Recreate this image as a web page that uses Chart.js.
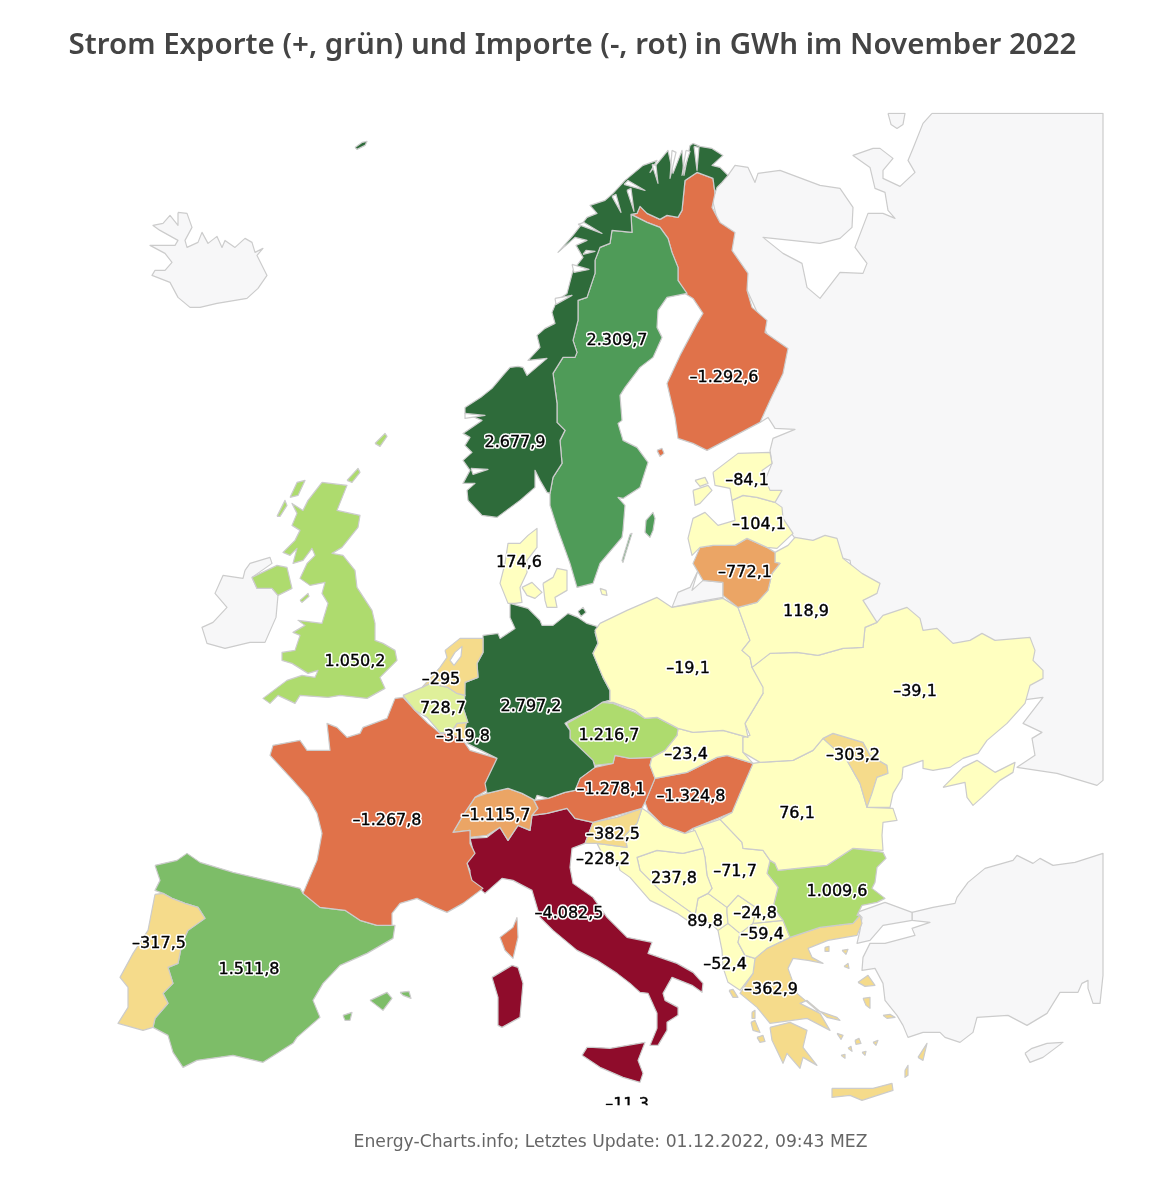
<!DOCTYPE html>
<html><head><meta charset="utf-8">
<style>html,body{margin:0;padding:0;background:#fff;overflow:hidden}canvas{display:block}</style>
<script src="https://cdn.jsdelivr.net/npm/chart.js@4"></script></head>
<body><canvas id="c" width="1167" height="1200"></canvas>
<script>
const titleText = "Strom Exporte (+, grün) und Importe (-, rot) in GWh im November 2022";
const footerText = "Energy-Charts.info; Letztes Update: 01.12.2022, 09:43 MEZ";

// Exchange values (GWh) per country
const countries = ["Norway","Sweden","Finland","Estonia","Latvia","Denmark","Lithuania","Belarus","UK","Poland","Netherlands","Ukraine","Belgium","Germany","Czechia","Luxembourg","Slovakia","Moldova","Austria","Hungary","France","Switzerland","Romania","Slovenia","Croatia","Bosnia","Serbia","Bulgaria","Italy","Kosovo","Montenegro","NMacedonia","Portugal","Spain","Albania","Greece","Malta"];
const values = [2677.9,2309.7,-1292.6,-84.1,-104.1,174.6,-772.1,118.9,1050.2,-19.1,-295,-39.1,728.7,2797.2,1216.7,-319.8,-23.4,-303.2,-1278.1,-1324.8,-1267.8,-1115.7,76.1,-382.5,-228.2,237.8,-71.7,1009.6,-4082.5,-24.8,89.8,-59.4,-317.5,1511.8,-52.4,-362.9,-11.3];
// Label anchors in map units
const labelX = [515,617,724,747,759,519,745,806,355,688,441,915,443,531,609,463,686,853,611,691,387,496,797,613,603,674,735,837,569,755,705,762,159,249,725,771,627];
const labelY = [442,340,377,480,524,562,572,611,661,668,679,691,708,706,735,736,754,755,789,796,820,815,813,834,859,878,871,891,913,913,921,934,943,969,964,989,1104];

// Colour classes (upper bound, colour)
const classBounds = [-2000,-1250,-750,-250,250,750,1250,1750,2500,Infinity];
const classColors = ["#8f0c2b","#e0724a","#eba565","#f5db8b","#ffffc0","#dff09a","#aedb6e","#7dbd68","#4f9b58","#2e6b3a"];
const noDataFill = "#f7f7f8", borderGrey = "#cccccc";

// Outlines, map units
const norway = [693,143,700,146,712,148,723,155,712,165,720,167,728,175,722,182,717,187,715,193,713,178,697,172,685,180,682,210,678,217,667,215,660,219,647,213,640,206,637,213,631,214,632,232,612,230,610,243,600,247,595,260,595,273,587,297,578,300,578,320,573,340,577,352,575,357,563,357,553,373,557,403,557,422,565,430,560,440,562,463,553,477,550,493,547,492,540,480,535,470,535,487,520,500,497,517,482,515,468,500,467,490,475,483,463,483,470,470,463,460,472,452,465,445,470,437,463,433,482,420,465,413,465,407,482,396,492,388,503,375,510,367,518,366,523,367,527,375,547,358,528,360,540,347,537,335,545,328,555,323,552,312,557,300,567,293,573,270,583,257,576,245,587,240,575,237,558,252,573,235,587,217,597,213,590,205,605,200,613,193,625,180,643,165,657,160,650,172,668,150,673,173,682,150,684,175,690,145];
const sweden = [631,214,647,222,660,227,668,238,672,252,678,267,678,280,687,293,667,297,658,310,657,327,662,337,653,357,640,367,625,387,620,395,622,420,618,423,623,440,637,447,648,462,640,487,623,498,618,497,625,505,623,530,622,537,600,563,593,583,577,587,570,563,557,527,550,505,550,493,553,477,562,463,560,440,565,430,557,422,557,403,553,373,563,357,575,357,577,352,573,340,578,320,578,300,587,297,595,273,595,260,600,247,610,243,612,230,632,232];
const gotland = [646,520,653,512,655,518,653,530,650,537,645,532];
const oland = [630,534,632,533,626,552,623,562,622,560];
const finland = [697,172,713,178,715,193,712,207,720,222,735,232,732,250,748,273,747,290,752,307,767,320,765,332,788,348,783,373,770,400,760,422,707,450,693,443,678,438,675,417,667,383,680,355,697,323,703,313,693,298,685,293,678,280,678,267,672,252,668,238,660,227,647,222,631,214,637,213,640,206,647,213,660,219,667,215,678,217,682,210,685,180];
const aland = [657,450,662,448,664,453,660,456];
const estonia = [713,472,738,453,770,452,772,463,762,470,770,490,782,490,775,502,757,497,743,495,732,500,730,488,715,485];
const saaremaa = [693,490,708,485,712,490,700,503,695,505];
const hiiumaa = [695,480,705,477,708,483,700,486];
const latvia = [732,500,743,495,757,497,775,502,782,507,783,518,793,533,777,548,767,547,747,538,735,545,713,545,700,547,692,555,688,538,693,518,705,512,718,525,735,520];
const lithuania = [700,547,713,545,735,545,747,538,767,547,775,552,775,562,780,563,772,573,768,590,757,602,738,607,723,595,723,582,703,580,693,563];
const belarus = [775,552,788,545,795,537,813,540,825,535,837,538,843,558,862,573,880,583,877,593,863,600,877,622,865,627,863,647,843,648,818,655,797,652,770,653,752,667,750,657,742,650,750,640,738,607,757,602,768,590,772,573,780,563,775,562];
const ukraine = [752,667,770,653,797,652,818,655,843,648,863,647,865,627,877,622,883,615,907,607,920,618,923,630,937,628,953,643,970,640,982,633,995,640,1030,637,1035,650,1033,660,1043,670,1043,678,1030,685,1025,703,1007,723,987,740,978,753,963,758,950,767,933,770,923,768,923,760,903,767,902,778,893,793,890,807,867,807,872,793,877,777,888,773,887,765,870,755,863,742,833,733,823,738,813,750,793,760,760,762,743,752,743,737,750,735,745,723,763,693,753,673];
const crimea = [943,787,963,767,977,760,995,772,1015,762,1013,772,1000,780,982,797,973,805,967,797,965,782];
const moldova = [823,738,833,733,863,742,870,755,887,765,888,773,877,777,872,793,867,807,860,783,847,760];
const poland = [600,623,627,610,657,597,672,607,723,598,738,607,750,640,742,650,750,657,752,667,763,687,763,693,745,723,748,737,723,730,693,732,678,728,657,717,645,718,635,710,613,702,603,702,610,700,610,690,603,677,593,653,598,643,595,630];
const germany = [510,603,528,608,540,620,542,625,553,625,568,613,578,617,587,623,600,627,595,632,598,643,593,653,603,677,610,690,610,700,602,702,590,710,570,720,565,723,570,730,570,738,593,760,595,767,580,778,575,790,565,792,548,798,537,795,535,800,522,793,508,788,487,793,485,783,497,758,467,743,465,728,467,720,463,707,465,682,478,677,477,663,483,652,483,635,498,633,500,638,515,628,510,617];
const rugen = [578,611,583,607,586,612,581,616];
const jutland = [515,603,522,602,520,587,527,572,527,560,537,547,537,528,528,535,520,543,508,543,505,563,500,583,508,603];
const funen = [522,587,532,582,542,592,535,598,527,595];
const zealand = [543,583,553,577,557,568,567,570,567,590,555,597,557,607,547,607,545,600];
const bornholm = [600,588,606,590,607,595,602,594];
const netherlands = [445,650,460,638,483,638,483,652,477,663,478,677,465,682,465,695,457,693,448,687,430,683,422,687,440,667,447,657];
const belgium = [403,695,422,687,430,683,448,687,457,693,465,695,463,707,468,722,457,723,450,733,440,732,427,717,415,710];
const luxembourg = [457,723,468,722,468,735,462,740,452,733];
const france = [395,698,403,697,415,710,428,723,433,727,440,733,452,733,463,740,470,750,497,758,487,790,475,797,463,815,453,832,470,830,470,843,475,853,467,863,472,880,483,888,463,903,447,912,435,907,417,898,400,903,392,913,392,925,377,925,360,920,345,910,320,907,303,893,317,860,322,833,317,813,308,797,293,780,270,755,273,745,300,740,307,750,330,750,327,723,337,727,347,737,360,733,363,727,387,718];
const corsica = [517,917,518,937,513,958,505,950,500,937,513,927];
const spain = [155,865,177,860,187,853,200,862,233,872,267,880,300,888,303,893,320,907,345,910,360,920,377,925,395,925,393,938,367,953,340,965,323,983,313,1000,320,1017,297,1037,293,1043,263,1062,233,1055,197,1060,183,1067,173,1052,168,1035,153,1027,155,1018,168,1003,163,993,173,983,168,967,178,963,182,943,188,930,205,918,198,907,185,903,172,898,163,893,155,890,160,880];
const mallorca = [370,1000,387,992,392,998,383,1010];
const menorca = [400,992,409,991,411,998,403,995];
const ibiza = [343,1015,352,1012,350,1020,345,1020];
const portugal = [155,894,163,893,172,898,185,903,198,907,205,918,188,930,182,943,178,963,168,967,173,983,163,993,168,1003,155,1018,153,1027,143,1030,118,1023,128,1007,128,987,120,977,133,953,148,930];
const britain = [322,482,347,485,337,510,360,515,358,527,342,547,332,553,343,555,355,570,357,587,372,610,375,623,375,640,383,643,395,650,397,660,380,677,385,688,367,698,340,695,328,697,300,695,295,703,278,695,270,703,263,698,287,680,302,675,315,677,318,670,308,673,292,663,282,660,282,652,295,650,300,635,293,632,305,625,298,620,322,623,328,603,322,593,325,582,310,585,300,578,307,563,315,555,312,548,303,560,293,563,297,548,290,555,283,552,295,540,300,530,292,525,297,513,292,503,303,510,308,500];
const northIreland = [252,577,277,565,287,567,292,588,278,595,272,588,257,588];
const hebrides1 = [290,497,297,482,305,480,298,495];
const hebrides2 = [277,516,285,500,287,505,280,516];
const orkney = [347,480,358,468,360,472,352,482];
const shetland = [375,443,385,433,387,436,380,446];
const man = [300,600,308,593,309,596,302,602];
const ireland = [245,570,250,563,270,557,272,563,252,577,257,588,272,588,278,595,276,617,265,642,250,642,225,648,207,643,202,627,213,622,227,607,215,593,223,575,243,578];
const iceland = [178,212,187,213,192,227,185,240,187,247,198,242,202,232,208,243,217,236,222,247,225,240,235,247,245,238,252,242,255,252,263,248,257,255,267,275,258,288,247,298,217,303,200,307,190,307,178,297,170,282,152,275,155,270,165,270,172,262,165,253,150,245,175,245,178,240,160,230,153,225,163,223,170,215,178,225];
const faroe = [355,147,362,142,367,141,365,145,357,149];
const russia = [932,113,1103,113,1103,780,1097,785,1057,773,1017,767,1035,755,1032,738,1042,732,1023,723,1043,697,1020,700,1000,660,900,640,860,620,850,560,800,545,775,510,765,480,772,463,770,450,773,438,795,429,775,428,768,417,760,422,750,400,770,340,720,230,710,190,728,175,735,165,748,167,755,182,758,173,780,170,820,185,840,188,853,207,852,227,840,238,820,243,763,237,783,253,802,263,807,287,820,298,840,272,863,273,867,263,855,247,868,213,883,213,895,218,888,210,885,192,875,188,870,167,853,155,873,148,880,148,893,158,883,170,883,178,900,186,915,172,908,160,913,148,923,123];
const kolguev = [888,113,905,113,903,124,897,128,891,124];
const kaliningrad = [672,607,678,592,690,587,698,570,692,590,703,580,723,582,723,597,700,601];
const turkeyEurope = [885,902,912,912,912,920,883,925,870,940,857,943,860,930,862,917,857,912];
const anatolia = [912,912,933,907,955,903,957,897,968,882,985,868,1013,860,1017,855,1033,863,1040,858,1053,865,1075,862,1103,853,1103,975,1100,1003,1093,1003,1088,988,1088,980,1082,983,1078,992,1060,992,1047,1013,1027,1025,1008,1015,977,1017,973,1032,960,1042,945,1037,940,1032,923,1032,908,1037,903,1025,897,1015,885,1000,883,983,875,968,862,970,863,957,870,943,885,943,915,935,912,928,930,922,912,920];
const cyprus = [1025,1053,1032,1048,1047,1043,1063,1042,1043,1057,1030,1062];
const greece = [860,915,862,923,857,935,828,940,808,948,812,957,823,963,808,960,793,958,788,968,797,993,817,1010,837,1017,840,1020,827,1017,807,1000,800,1003,820,1013,830,1030,807,1018,770,1023,757,1007,740,993,753,973,755,958,767,948,790,937,820,927,853,923];
const peloponnese = [770,1027,790,1022,807,1030,803,1047,817,1065,803,1057,800,1068,787,1053,783,1063,772,1040];
const crete = [832,1088,853,1088,873,1088,892,1083,893,1090,862,1100,850,1095,832,1097];
const lesbos = [858,982,868,975,875,985,865,986];
const chios = [863,998,870,997,870,1008,866,1005];
const rhodes = [918,1057,927,1043,923,1060];
const samos = [883,1015,890,1014,895,1017,887,1018];
const kefalonia = [751,1022,755,1020,760,1032,753,1030];
const zakynthos = [757,1037,763,1035,765,1041,760,1042];
const corfu = [729,990,733,989,738,997,733,997];
const lefkada = [752,1012,755,1010,755,1018,752,1018];
const thasos = [825,947,829,946,829,951,825,951];
const limnos = [842,950,848,949,846,954];
const skyros = [844,966,848,963,849,968];
const andros = [837,1033,843,1035,841,1039];
const naxos = [855,1040,859,1038,861,1043,856,1044];
const paros = [848,1048,851,1046,852,1051];
const milos = [841,1055,845,1054,845,1058];
const cyclades = [862,1052,866,1051,865,1055];
const kos = [873,1042,878,1040,876,1045];
const karpathos = [905,1070,908,1065,908,1075,905,1077];
const slovakia = [650,765,655,778,687,772,717,757,727,755,753,763,743,752,743,737,748,737,723,730,693,732,678,728,677,735,665,750,652,757];
const czechia = [567,723,590,710,602,702,613,703,635,712,645,718,657,717,678,728,677,735,665,750,652,757,630,758,615,755,613,763,595,765,593,760,570,738,570,730];
const austria = [595,767,613,763,615,755,630,758,652,757,650,765,655,778,645,802,642,808,593,822,575,818,567,808,547,813,532,815,538,808,533,798,522,793,537,795,535,800,548,798,565,792,575,790,580,778];
const hungary = [753,763,740,793,732,812,718,818,693,828,685,833,663,825,648,810,645,802,655,778,687,772,717,757,727,755];
const switzerland = [487,793,508,788,522,793,533,798,538,808,532,815,530,830,518,825,508,840,500,827,487,835,470,837,470,830,453,832,463,815,475,797];
const romania = [720,819,732,812,740,793,753,763,760,762,793,760,813,750,823,738,847,760,860,783,867,807,893,808,897,820,883,822,882,835,883,850,853,848,827,865,797,868,778,870,775,863,770,860,763,850,743,848,742,842];
const slovenia = [593,822,617,817,642,808,637,823,625,835,627,847,597,843,585,843];
const croatia = [637,823,642,808,648,812,663,825,685,833,695,830,703,848,683,853,657,850,637,857,640,870,660,890,695,915,690,922,677,913,650,900,630,877,620,870,617,860,607,863,597,843,627,847,625,835];
const bosnia = [637,857,657,850,683,853,703,848,705,857,707,875,712,888,708,893,698,898,695,915,660,890,640,870];
const serbia = [693,828,720,819,742,842,743,848,763,850,770,860,767,873,778,887,773,907,783,920,753,923,757,908,738,895,727,907,708,893,712,888,707,875,705,857,702,847];
const bulgaria = [775,863,778,870,797,868,827,865,853,848,883,852,886,858,877,867,875,882,872,888,885,898,877,902,862,905,857,915,860,915,853,923,820,927,790,937,783,920,773,907,778,887,767,873,770,860];
const italy = [470,838,487,837,500,827,508,840,518,825,530,830,532,815,547,813,567,808,575,818,593,822,585,843,572,848,570,867,573,883,593,897,607,917,627,937,652,942,648,953,677,963,693,972,703,983,702,992,692,985,672,977,663,993,665,1000,678,1007,678,1015,667,1022,667,1030,658,1045,650,1045,657,1028,657,1013,648,993,640,992,630,983,617,973,597,960,577,950,553,930,540,917,532,890,513,880,502,878,485,893,470,880,470,870,466,860,473,850];
const sardinia = [492,977,512,965,518,967,523,983,520,1017,502,1027,498,1025,498,997];
const sicily = [582,1055,587,1047,593,1047,610,1048,645,1042,638,1060,643,1073,640,1082,623,1077,600,1067];
const kosovo = [727,907,738,895,757,908,753,923,740,933,728,923,727,912];
const montenegro = [695,915,698,898,708,893,727,907,727,912,728,923,718,930,713,925];
const macedonia = [740,933,753,923,783,920,790,937,767,948,755,958,745,955,738,942];
const albania = [718,930,728,923,740,933,738,942,745,955,755,958,753,973,740,990,728,982,723,967,722,950];

// White water cut-outs
const ijsselmeer = [455,652,462,646,461,656,454,665,450,660];
const fjord1 = [694,146,699,147,697,170];
const fjord2 = [686,150,690,151,682,175];
const fjord3 = [672,150,676,152,670,178];
const fjord4 = [652,164,656,165,658,183];
const fjord5 = [624,184,628,180,645,190];
const fjord6 = [627,190,631,188,634,211];
const fjord7 = [612,196,616,194,621,212];
const fjord8 = [578,224,584,222,602,233];
const fjord9 = [583,254,586,250,595,251];
const fjord10 = [572,264,574,272,589,269];
const fjord11 = [555,298,556,304,572,295];
const fjord12 = [465,413,465,418,485,415];
const fjord13 = [471,468,473,474,488,469];

const outlines = {
  Norway:[norway,faroe], Sweden:[sweden,gotland,oland], Finland:[finland,aland], Estonia:[estonia,saaremaa,hiiumaa], Latvia:[latvia],
  Denmark:[jutland,funen,zealand,bornholm], Lithuania:[lithuania], Belarus:[belarus], UK:[britain,northIreland,hebrides1,hebrides2,orkney,shetland,man],
  Poland:[poland], Netherlands:[netherlands], Ukraine:[ukraine,crimea], Belgium:[belgium], Germany:[germany,rugen], Czechia:[czechia], Luxembourg:[luxembourg],
  Slovakia:[slovakia], Moldova:[moldova], Austria:[austria], Hungary:[hungary], France:[france,corsica], Switzerland:[switzerland], Romania:[romania],
  Slovenia:[slovenia], Croatia:[croatia], Bosnia:[bosnia], Serbia:[serbia], Bulgaria:[bulgaria], Italy:[italy,sardinia,sicily], Kosovo:[kosovo],
  Montenegro:[montenegro], NMacedonia:[macedonia], Portugal:[portugal], Spain:[spain,mallorca,menorca,ibiza], Albania:[albania],
  Greece:[greece,peloponnese,crete,lesbos,chios,rhodes,samos,kefalonia,zakynthos,corfu,lefkada,thasos,limnos,skyros,andros,naxos,paros,milos,cyclades,kos,karpathos],
  Malta:[]
};
const noDataOutlines = [iceland,ireland,russia,kolguev,kaliningrad,turkeyEurope,anatolia,cyprus];
const waters = [ijsselmeer,fjord1,fjord2,fjord3,fjord4,fjord5,fjord6,fjord7,fjord8,fjord9,fjord10,fjord11,fjord12,fjord13];

const colorFor = v => classColors[classBounds.findIndex(b => v < b)];
const toPoints = flat => { const p=[]; for(let i=0;i<flat.length;i+=2) p.push({x:flat[i],y:flat[i+1]}); p.push({x:flat[0],y:flat[1]}); return p; };
const poly = (flat,fill) => ({data:toPoints(flat),backgroundColor:fill,borderColor:borderGrey,borderWidth:1.2,fill:'shape',showLine:true,pointRadius:0,pointHitRadius:0,tension:0,borderJoinStyle:'round'});
const fmt = new Intl.NumberFormat('de-DE',{maximumFractionDigits:1});
const labelOf = v => (v<0?'–':'')+fmt.format(Math.abs(v));

const datasets = [];
waters.forEach(l => datasets.push(poly(l,'#ffffff')));
countries.forEach((name,i) => outlines[name].forEach(part => datasets.push(poly(part,colorFor(values[i])))));
noDataOutlines.forEach(part => datasets.push(poly(part,noDataFill)));

const valueLabels = {
  id:'valueLabels',
  afterDatasetsDraw(chart){
    const {ctx,chartArea:a,scales:{x,y}} = chart;
    ctx.save();
    ctx.beginPath(); ctx.rect(a.left,a.top,a.right-a.left,a.bottom-a.top); ctx.clip();
    ctx.font = '16px "DejaVu Sans"';
    ctx.textAlign='center'; ctx.textBaseline='middle'; ctx.lineJoin='round';
    values.forEach((v,i) => {
      const px=x.getPixelForValue(labelX[i]), py=y.getPixelForValue(labelY[i]), t=labelOf(v);
      ctx.lineWidth=3.5; ctx.strokeStyle='#ffffff'; ctx.strokeText(t,px,py);
      ctx.lineWidth=0.4; ctx.strokeStyle='#000000'; ctx.strokeText(t,px,py);
      ctx.fillStyle='#000000'; ctx.fillText(t,px,py);
    });
    ctx.restore();
  }
};

new Chart(document.getElementById('c'),{
  type:'scatter',
  data:{datasets},
  plugins:[valueLabels],
  options:{
    responsive:false, animation:false, events:[],
    layout:{padding:{left:41,right:63,top:0,bottom:0}},
    scales:{
      x:{type:'linear',display:false,min:117,max:1104},
      y:{type:'linear',display:false,min:112,max:1105,reverse:true,afterFit(s){s.width=76;}}
    },
    plugins:{
      legend:{display:false},
      tooltip:{enabled:false},
      title:{display:true,text:titleText,color:'#444444',font:{family:'"Noto Sans"',size:29.5,weight:'600',lineHeight:1.2},padding:{top:28,bottom:49}},
      subtitle:{display:true,text:footerText,position:'bottom',fullSize:false,color:'#666666',font:{family:'"DejaVu Sans"',size:17.2,weight:'normal',lineHeight:1.2},padding:{top:27,bottom:47}}
    }
  }
});
</script></body></html>
